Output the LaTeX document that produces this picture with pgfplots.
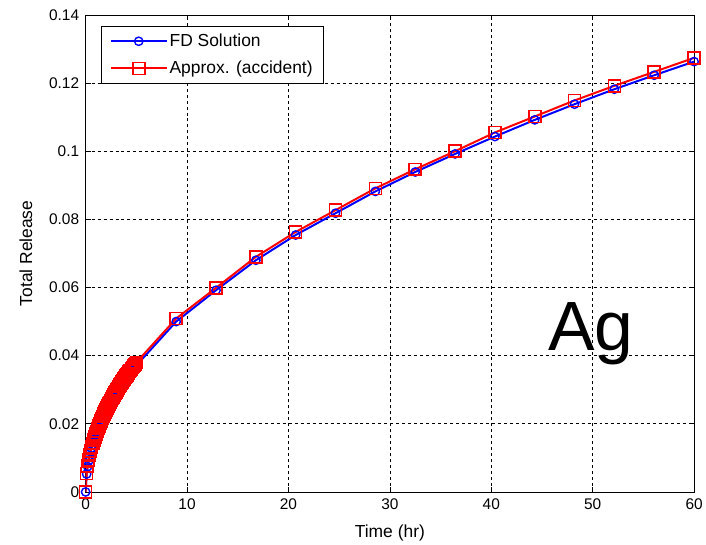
\documentclass[border=0pt]{standalone}
\usepackage{fontspec}
\setmainfont{Liberation Sans}
\usepackage{pgfplots}
\pgfplotsset{compat=1.18}
\begin{document}
\begin{tikzpicture}
\begin{axis}[
  scale only axis,
  width=611pt, height=479pt,
  xmin=0, xmax=60, ymin=0, ymax=0.14,
  xtick={0,10,20,30,40,50,60},
  ytick={0,0.02,0.04,0.06,0.08,0.1,0.12,0.14},
  yticklabels={0,0.02,0.04,0.06,0.08,0.1,0.12,0.14},
  tick align=inside,
  major tick length=5pt,
  ymajorgrids, xmajorgrids,
  grid style={black, line width=0.6pt, dash pattern=on 3pt off 3pt},
  axis line style={black, line width=0.7pt},
  tick style={black, line width=0.7pt},
  ticklabel style={font=\fontsize{15.5}{17}\selectfont},
  xticklabel style={yshift=-3pt},
  yticklabel style={xshift=-3pt},
  /pgf/number format/assume math mode=true,
  xlabel={Time (hr)}, ylabel={Total Release},
  label style={font=\fontsize{17.5}{19}\selectfont},
  xlabel style={at={(axis description cs:0.5,-0.087)}, anchor=center},
  ylabel style={at={(axis description cs:-0.098,0.5)}, anchor=center},
  legend style={at={(0.0245,0.977)}, anchor=north west, draw=black, line width=0.7pt,
    font=\fontsize{17.5}{19}\selectfont, inner xsep=9pt, inner ysep=6pt, row sep=9pt},
  legend cell align=left,
  legend image code/.code={\draw[#1] (0pt,0pt) -- (28pt,0pt) plot coordinates {(28pt,0pt)} -- (56pt,0pt);},
]
\addplot[blue, line width=2pt, mark=o, mark size=4.2pt, mark options={line width=1.4pt, solid}] coordinates {
(0,0) (0.1,0.00525) (0.2,0.00742) (0.3,0.00909) (0.4,0.01050) (0.5,0.01174)
(0.6,0.01286) (0.7,0.01389) (0.8,0.01485) (0.9,0.01575) (1.0,0.01660)
(1.1,0.01741) (1.2,0.01818) (1.3,0.01893) (1.4,0.01964) (1.5,0.02033)
(1.6,0.02100) (1.7,0.02164) (1.8,0.02227) (1.9,0.02288) (2.0,0.02348)
(2.1,0.02406) (2.2,0.02462) (2.3,0.02518) (2.4,0.02572) (2.5,0.02625)
(2.6,0.02677) (2.7,0.02728) (2.8,0.02778) (2.9,0.02827) (3.0,0.02875)
(3.1,0.02923) (3.2,0.02970) (3.3,0.03016) (3.4,0.03061) (3.5,0.03106)
(3.6,0.03150) (3.7,0.03193) (3.8,0.03236) (3.9,0.03278) (4.0,0.03320)
(4.1,0.03361) (4.2,0.03402) (4.3,0.03442) (4.4,0.03482) (4.5,0.03521)
(4.6,0.03560) (4.7,0.03599) (4.8,0.03637) (4.9,0.03675) (5.0,0.03712)
(8.93,0.0500) (12.86,0.0592) (16.79,0.0680) (20.71,0.0754) (24.64,0.0818)
(28.57,0.0882) (32.50,0.0939) (36.43,0.0992) (40.36,0.1043) (44.29,0.1092)
(48.21,0.1138) (52.14,0.1182) (56.07,0.1223) (60.00,0.1263)
};
\addlegendentry{FD Solution}
\addplot[red, line width=2pt, mark=square, mark size=6pt, mark options={line width=1.6pt, solid}] coordinates {
(0,0) (0.1,0.0054) (0.2,0.0076) (0.3,0.0093) (0.4,0.0108) (0.5,0.0120)
(0.6,0.0132) (0.7,0.0142) (0.8,0.0152) (0.9,0.0161) (1.0,0.0170)
(1.1,0.0178) (1.2,0.0186) (1.3,0.0194) (1.4,0.0201) (1.5,0.0208)
(1.6,0.0215) (1.7,0.0222) (1.8,0.0228) (1.9,0.0234) (2.0,0.0240)
(2.1,0.0246) (2.2,0.0252) (2.3,0.0258) (2.4,0.0263) (2.5,0.0269)
(2.6,0.0274) (2.7,0.0279) (2.8,0.0285) (2.9,0.0290) (3.0,0.0294)
(3.1,0.0299) (3.2,0.0304) (3.3,0.0309) (3.4,0.0314) (3.5,0.0318)
(3.6,0.0323) (3.7,0.0327) (3.8,0.0331) (3.9,0.0336) (4.0,0.0340)
(4.1,0.0344) (4.2,0.0348) (4.3,0.0353) (4.4,0.0357) (4.5,0.0361)
(4.6,0.0365) (4.7,0.0369) (4.8,0.0373) (4.9,0.0376) (5.0,0.0380)
(8.93,0.0509) (12.86,0.0599) (16.79,0.0690) (20.71,0.0763) (24.64,0.0827)
(28.57,0.0891) (32.50,0.0947) (36.43,0.1000) (40.36,0.1055) (44.29,0.1102)
(48.21,0.1149) (52.14,0.1192) (56.07,0.1233) (60.00,0.1274)
};
\addlegendentry{Approx. (accident)}
\node[anchor=base, font=\fontsize{70}{70}\selectfont, inner sep=0pt] at (axis cs:49.8,0.0415) {Ag};
\coordinate (ll) at (rel axis cs:0,0);
\coordinate (ur) at (rel axis cs:1,1);
\end{axis}
\path ([xshift=-86pt,yshift=-51pt]ll) rectangle ([xshift=9pt,yshift=15pt]ur);
\end{tikzpicture}
\end{document}
